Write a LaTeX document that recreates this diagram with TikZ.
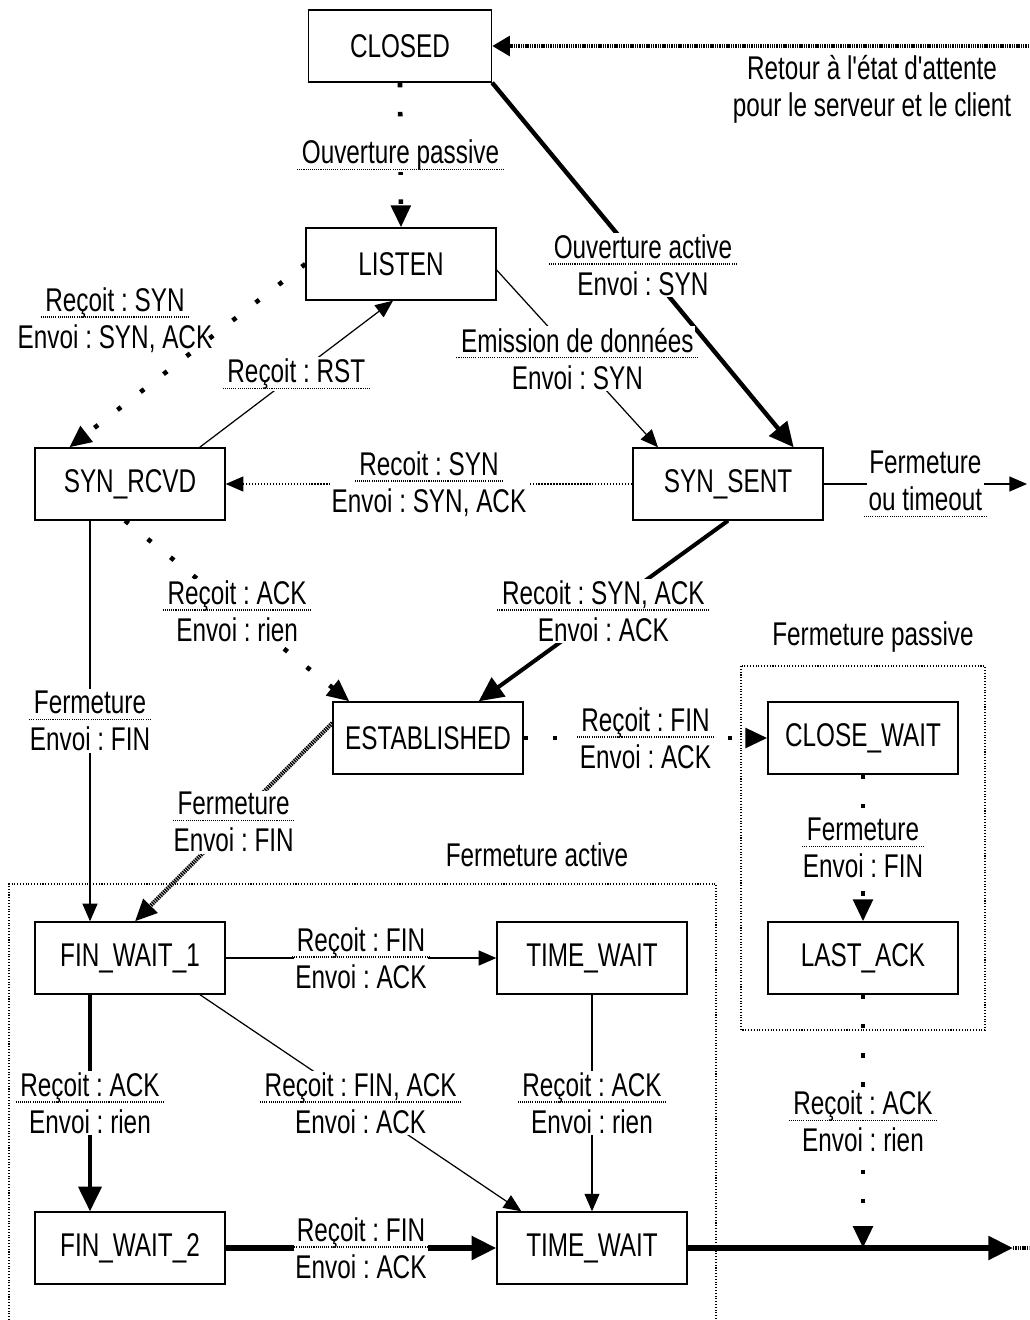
\documentclass[tikz,border=0pt]{standalone}
\usepackage{fontspec}
\setmainfont{Liberation Sans}[FakeStretch=0.74, Ligatures=TeXOff]
\usetikzlibrary{arrows.meta}
\frenchspacing

\newsavebox\ulbox
\newcommand{\dul}[1]{\sbox\ulbox{#1}\leavevmode\rlap{\hspace{-3pt}\raisebox{-3.6pt}{\hbox to \dimexpr\wd\ulbox+6pt\relax{\xleaders\hbox to 1.2pt{\hss\vrule width 0.6pt height 0.7pt depth 0pt\hss}\hfill}}}\usebox\ulbox}

\tikzset{
  etat/.style={draw, line width=0.8pt, minimum width=3.8cm, minimum height=1.44cm, inner sep=0pt},
  lbl/.style={fill=white, align=center, inner sep=1pt},
  fleche/.style={line width=0.7pt, -{Triangle[length=10pt,width=8.5pt]}},
  pfleche/.style={-{Triangle[length=12.5pt,width=11pt]}},
  grossefleche/.style={-{Triangle[length=14pt,width=13pt]}},
  points/.style={line width=2.6pt, dash pattern=on 2.6pt off 14pt},
  hachure/.style={line width=2.4pt, dash pattern=on 0.8pt off 0.5pt},
  zone/.style={line width=0.6pt, densely dotted},
}

\begin{document}
\begin{tikzpicture}[x=0.02cm, y=-0.02cm, font=\fontsize{18.7pt}{21pt}\selectfont]
  \useasboundingbox (0,0) rectangle (1029,1320);

  \node[etat, minimum width=3.66cm] (closed) at (400,46) {CLOSED};
  \node[etat] (listen) at (401,264) {LISTEN};
  \node[etat] (synrcvd) at (130,484) {SYN\_RCVD};
  \node[etat] (synsent) at (728,484) {SYN\_SENT};
  \node[etat] (established) at (428,738) {ESTABLISHED};
  \node[etat] (closewait) at (863,738) {CLOSE\_WAIT};
  \node[etat] (lastack) at (863,958) {LAST\_ACK};
  \node[etat] (finwaita) at (130,958) {FIN\_WAIT\_1};
  \node[etat] (timewaita) at (592,958) {TIME\_WAIT};
  \node[etat] (finwaitb) at (130,1248) {FIN\_WAIT\_2};
  \node[etat] (timewaitb) at (592,1248) {TIME\_WAIT};

  \coordinate (ret) at (1029,46);
  \coordinate (out1) at (1027,484);
  \coordinate (j) at (863,1248);
  \coordinate (out2) at (1013,1248);
  \coordinate (out3) at (1029,1248);

  \node[align=center] (retour) at (872,89) {Retour à l'état d'attente\\pour le serveur et le client};
  \node (fpassive) at (873,637) {Fermeture passive};
  \node (factive) at (537,855) {Fermeture active};
  \node[align=center] (recsyn) at (115,320) {\dul{Reçoit : SYN}\\Envoi : SYN, ACK};

  \draw[zone] (741,666) rectangle (985,1030);
  \draw[zone] (9,1320) |- (716,884) -- (716,1320);

  \draw[hachure, -{Triangle[length=10pt,width=11pt]}] (ret) -- (closed.east);
  \draw[points, pfleche] (closed.south) -- (listen.north) node[lbl, midway] {\dul{Ouverture passive}};
  \draw[grossefleche, line width=2.5pt] (closed.south east) -- ([xshift=-0.6cm]synsent.north east) node[lbl, midway] {\dul{Ouverture active}\\Envoi : SYN};
  \draw[points, pfleche] (listen.west) -- ([xshift=0.7cm]synrcvd.north west);
  \draw[fleche] ([xshift=-0.52cm]synrcvd.north east) -- ([xshift=-0.16cm]listen.south) node[lbl, midway] {\dul{Reçoit : RST}};
  \draw[fleche] ([yshift=-0.12cm]listen.east) -- ([xshift=-1.4cm]synsent.north) node[lbl, midway] {\dul{Emission de données}\\Envoi : SYN};
  \draw[fleche, densely dotted] (synsent.west) -- (synrcvd.east) node[lbl, midway] {\dul{Recoit : SYN}\\Envoi : SYN, ACK};
  \draw[fleche] (synsent.east) -- (out1) node[lbl, midway] {Fermeture\\\dul{ou timeout}};
  \draw[points, pfleche] ([xshift=-0.1cm]synrcvd.south) -- ([xshift=0.34cm]established.north west) node[lbl, midway] {\dul{Reçoit : ACK}\\Envoi : rien};
  \draw[grossefleche, line width=2.3pt] (synsent.south) -- ([xshift=-0.9cm]established.north east) node[lbl, midway] {\dul{Recoit : SYN, ACK}\\Envoi : ACK};
  \draw[fleche] ([xshift=-0.8cm]synrcvd.south) -- ([xshift=-0.8cm]finwaita.north) node[lbl, midway] {\dul{Fermeture}\\Envoi : FIN};
  \draw[hachure, pfleche] ([yshift=0.3cm]established.west) -- ([xshift=0.1cm]finwaita.north) node[lbl, midway] {\dul{Fermeture}\\Envoi : FIN};
  \draw[points, pfleche] (established.east) -- (closewait.west) node[lbl, midway] {\dul{Reçoit : FIN}\\Envoi : ACK};
  \draw[points, pfleche] (closewait.south) -- (lastack.north) node[lbl, midway] {\dul{Fermeture}\\Envoi : FIN};
  \draw[points, pfleche] (lastack.south) -- (j) node[lbl, midway] {\dul{Reçoit : ACK}\\Envoi : rien};
  \draw[fleche] (finwaita.east) -- (timewaita.west) node[lbl, midway] {\dul{Reçoit : FIN}\\Envoi : ACK};
  \draw[grossefleche, line width=2.3pt] ([xshift=-0.8cm]finwaita.south) -- ([xshift=-0.8cm]finwaitb.north) node[lbl, midway] {\dul{Reçoit : ACK}\\Envoi : rien};
  \draw[fleche] ([xshift=1.4cm]finwaita.south) -- ([xshift=0.5cm]timewaitb.north west) node[lbl, midway] {\dul{Reçoit : FIN, ACK}\\Envoi : ACK};
  \draw[fleche] (timewaita.south) -- (timewaitb.north) node[lbl, midway] {\dul{Reçoit : ACK}\\Envoi : rien};
  \draw[grossefleche, line width=3.2pt] (finwaitb.east) -- (timewaitb.west) node[lbl, midway] {\dul{Reçoit : FIN}\\Envoi : ACK};
  \draw[grossefleche, line width=3.2pt] (timewaitb.east) -- (out2);
  \draw[hachure] (out2) -- (out3);
\end{tikzpicture}
\end{document}
